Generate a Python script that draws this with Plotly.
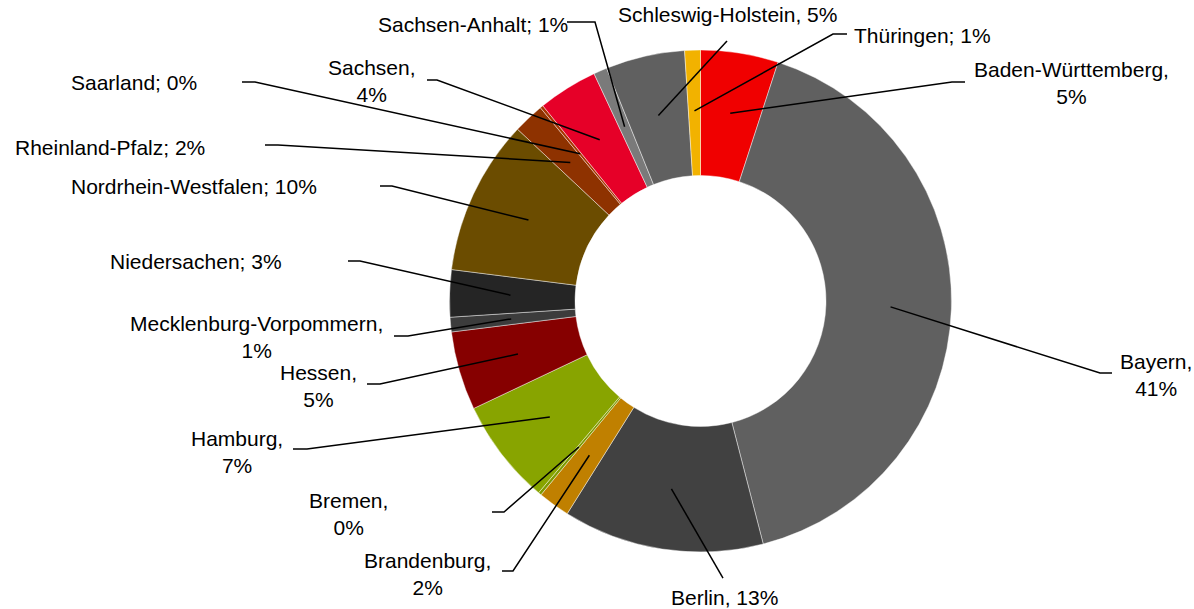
import math
import plotly.graph_objects as go

# ---- data ----
states = ["Baden-Württemberg", "Bayern", "Berlin", "Brandenburg", "Bremen", "Hamburg",
          "Hessen", "Mecklenburg-Vorpommern", "Niedersachen", "Nordrhein-Westfalen",
          "Rheinland-Pfalz", "Saarland", "Sachsen", "Sachsen-Anhalt",
          "Schleswig-Holstein", "Thüringen"]
shares = [5.0, 40.98, 12.93, 2.05, 0.2, 6.8, 5.07, 0.94, 3.03, 10.0,
          1.99, 0.2, 3.84, 0.87, 5.09, 1.01]
separators = [",<br>", ",<br>", ", ", ",<br>", ",<br>", ",<br>", ",<br>", ",<br>", "; ", "; ",
              "; ", "; ", ",<br>", "; ", ", ", "; "]

# ---- styles ----
colors = ["#f00000", "#606060", "#414141", "#c08000", "#7f9a00", "#88a400",
          "#860000", "#3c3c3c", "#252525", "#6b4c00", "#8e3200", "#a83400",
          "#e60028", "#7a7a7a", "#606060", "#f2b200"]

W, H = 1194, 609
CX, CY, R, HOLE = 700.5, 301.0, 251.0, 0.5

# label centre positions (px) and leader elbow / end points (px)
label_pos = [(1071.5, 82.5), (1156, 374.5), (724, 597.5), (427.5, 573.5), (348, 514),
             (237, 452), (318, 386.5), (256, 337), (195.5, 262), (194, 187),
             (109.5, 147), (133.5, 83), (372, 80.5), (472.5, 25), (727, 15), (922.5, 35)]
leader_pts = [[(952, 82), (965, 82)], [(1100, 373), (1112, 373)], [(723, 578)],
              [(513, 571), (502, 571)], [(504, 512), (492, 512)], [(307, 449), (293, 449)],
              [(380, 384), (367, 384)], [(408, 336), (394, 336)], [(360, 261), (348, 261)],
              [(392, 186), (380, 186)], [(278, 145), (265, 145)], [(255, 82), (242, 82)],
              [(437, 80), (427, 80)], [(595, 22), (567, 22)], [(727, 41)], [(833, 34), (847, 34)]]


def px(x, y):
    return x / W, 1 - y / H


fig = go.Figure(go.Pie(
    labels=states, values=shares, hole=HOLE, sort=False, direction="clockwise",
    rotation=0, textinfo="none", showlegend=False,
    marker=dict(colors=colors, line=dict(color="rgba(255,255,255,0.55)", width=0.8)),
    domain=dict(x=[(CX - R) / W, (CX + R) / W], y=[1 - (CY + R) / H, 1 - (CY - R) / H]),
))

total = sum(shares)
cum = 0.0
shapes, annotations = [], []
r_mid = R * (1 + HOLE) / 2 * 1.01
for name, v, sep, lp, pts in zip(states, shares, separators, label_pos, leader_pts):
    mid = (cum + v / 2) / total * 2 * math.pi
    cum += v
    ex, ey = CX + r_mid * math.sin(mid), CY - r_mid * math.cos(mid)
    path_pts = [(ex, ey)] + pts
    path = ""
    for i, (x, y) in enumerate(path_pts):
        X, Y = px(x, y)
        path += ("M" if i == 0 else " L") + f" {X:.5f},{Y:.5f}"
    shapes.append(dict(type="path", path=path, xref="paper", yref="paper",
                       line=dict(color="black", width=1.5)))
    pct = round(v / total * 100)
    X, Y = px(*lp)
    annotations.append(dict(text=f"{name}{sep}{pct}%", x=X, y=Y, xref="paper", yref="paper",
                            xanchor="center", yanchor="middle", showarrow=False, align="center",
                            font=dict(family="Liberation Sans, Arial, sans-serif", size=21,
                                      color="#000000")))

fig.update_layout(width=W, height=H, margin=dict(l=0, r=0, t=0, b=0),
                  paper_bgcolor="white", plot_bgcolor="white",
                  shapes=shapes, annotations=annotations)

fig.write_html("out.html", config={"displayModeBar": False},
               post_script="document.body.style.margin='0';document.body.style.overflow='hidden';")
